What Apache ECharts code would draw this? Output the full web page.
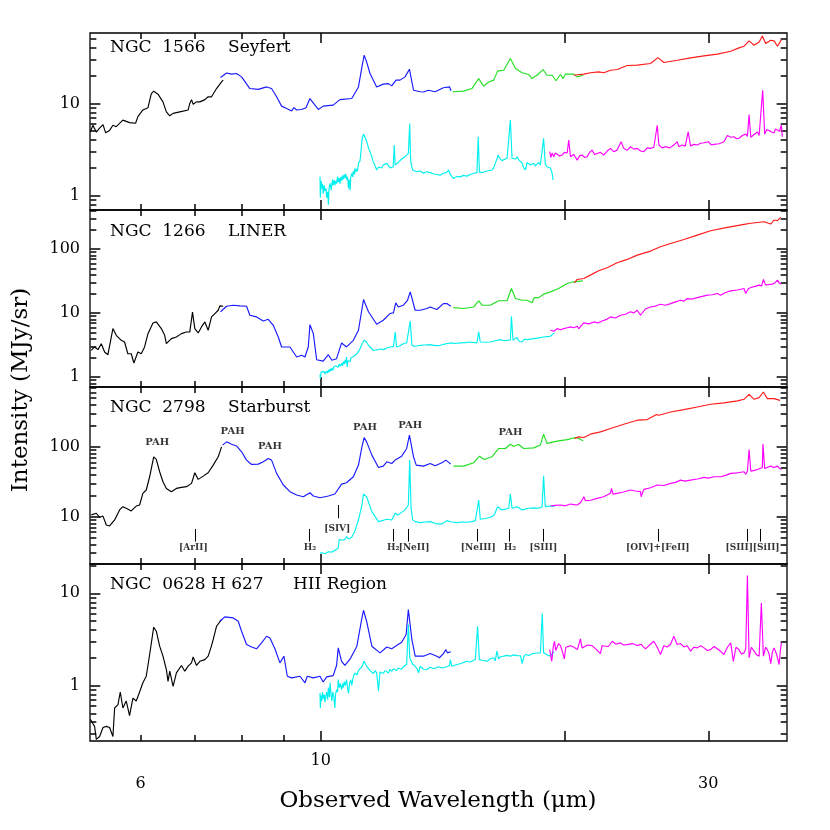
<!DOCTYPE html>
<html><head><meta charset="utf-8">
<script src="https://cdn.jsdelivr.net/npm/echarts@6/dist/echarts.min.js"></script>
<style>html,body{margin:0;padding:0;background:#fff}#c{width:830px;height:830px}</style>
</head><body><div id="c"></div>
<script>
// ---------------- DATA ([wavelength um, intensity MJy/sr]) ----------------
// Panel 1: NGC 1566 Seyfert
const p1Black = [[5.205,4.9],[5.243,5.8],[5.294,4.9],[5.344,5.4],[5.395,5.9],[5.436,4.8],[5.497,5.1],[5.549,5.8],[5.602,5.6],[5.708,6.6],[5.817,6.2],[5.917,6.1],[5.956,7.2],[6.041,8.5],[6.129,9.0],[6.187,12.8],[6.229,13.6],[6.305,12.6],[6.395,10.4],[6.457,8.1],[6.519,7.35],[6.581,7.8],[6.707,8.1],[6.868,8.5],[6.9,10.0],[6.934,11.0],[6.966,9.8],[7.033,10.4],[7.1,10.4],[7.201,11.0],[7.269,11.8],[7.339,11.8],[7.443,14.5],[7.55,17.1],[7.585,17.9]];
const p1Blue = [[7.528,19.1],[7.658,21.4],[7.767,20.8],[7.878,21.1],[7.991,19.4],[8.181,14.5],[8.378,14.2],[8.579,15.1],[8.7,14.5],[8.825,11.8],[8.951,9.35],[9.079,8.8],[9.209,8.3],[9.271,9.0],[9.341,8.5],[9.474,8.6],[9.592,9.0],[9.7,11.3],[9.84,9.6],[9.933,8.6],[10.07,9.35],[10.36,9.6],[10.56,11.0],[10.92,11.3],[11.13,15.1],[11.24,24.9],[11.31,33.3],[11.39,28.2],[11.5,21.1],[11.72,15.1],[11.94,16.2],[12.12,16.4],[12.23,15.5],[12.38,17.9],[12.52,17.9],[12.7,19.4],[12.86,23.5],[13.01,13.9],[13.26,13.4],[13.38,13.3],[13.57,13.9],[13.83,13.4],[14.16,14.8],[14.41,15.1],[14.47,13.7]];
const p1Green = [[14.54,13.4],[14.99,13.6],[15.35,14.5],[15.65,18.6],[15.87,15.4],[16.1,17.1],[16.33,17.9],[16.51,22.4],[16.8,22.9],[17.12,30.7],[17.37,23.9],[17.7,21.5],[18.03,20.6],[18.2,18.6],[18.46,20.2],[18.78,23.3],[18.99,20.2],[19.27,20.2],[19.49,17.6],[19.73,20.6],[19.88,18.6],[20.01,20.8],[20.49,20.8],[20.69,19.4],[21.04,20.2]];
const p1Red = [[20.49,20.2],[21.08,20.8],[21.48,21.5],[21.99,22.0],[22.31,21.5],[22.74,22.9],[23.17,23.3],[23.84,25.8],[24.53,26.0],[25.47,27.1],[26.01,31.4],[26.45,27.8],[27.47,29.4],[28.53,31.2],[29.64,32.8],[30.78,34.2],[31.97,36.8],[32.73,40.0],[33.2,41.7],[33.68,47.6],[34.16,42.7],[34.65,46.4],[34.97,53.9],[35.3,44.6],[35.81,48.4],[36.15,47.6],[36.5,41.7],[36.91,49.2]];
const p1Cyan = [[9.98,1.61],[9.99,0.95],[10.01,1.45],[10.03,1.2],[10.05,1.35],[10.07,1.05],[10.1,1.3],[10.12,1.12],[10.15,1.2],[10.17,0.95],[10.2,1.1],[10.22,0.8],[10.24,1.2],[10.27,1.36],[10.3,1.15],[10.32,1.3],[10.34,1.5],[10.36,1.3],[10.39,1.48],[10.41,1.3],[10.44,1.45],[10.46,1.35],[10.49,1.61],[10.51,1.4],[10.54,1.55],[10.56,1.35],[10.59,1.6],[10.61,1.45],[10.64,1.65],[10.66,1.5],[10.69,1.7],[10.71,1.55],[10.74,1.72],[10.76,1.5],[10.79,1.6],[10.82,1.2],[10.84,1.5],[10.87,1.15],[10.89,1.6],[10.92,1.75],[10.95,1.6],[10.97,1.85],[11.0,1.7],[11.02,1.98],[11.05,1.8],[11.08,1.95],[11.1,1.85],[11.13,2.24],[11.18,2.4],[11.21,3.0],[11.24,4.0],[11.29,4.65],[11.34,4.3],[11.39,3.9],[11.45,3.3],[11.5,3.0],[11.56,2.64],[11.61,2.3],[11.67,2.1],[11.72,1.9],[11.78,2.05],[11.83,2.1],[11.89,2.0],[11.94,2.15],[12.0,2.1],[12.06,2.24],[12.12,2.15],[12.17,2.0],[12.23,2.1],[12.28,2.05],[12.32,3.54],[12.35,2.15],[12.4,2.25],[12.46,2.3],[12.52,2.4],[12.58,2.5],[12.64,2.55],[12.7,2.65],[12.76,2.75],[12.82,2.87],[12.85,3.0],[12.87,6.07],[12.9,2.6],[12.92,2.2],[12.98,1.9],[13.04,1.85],[13.13,1.82],[13.2,1.9],[13.26,1.85],[13.38,1.75],[13.51,1.82],[13.64,1.78],[13.77,1.72],[13.9,1.7],[14.03,1.67],[14.16,1.75],[14.3,1.8],[14.37,1.9],[14.44,1.7],[14.57,1.54],[14.71,1.62],[14.85,1.6],[14.99,1.66],[15.14,1.63],[15.28,1.7],[15.43,1.75],[15.57,1.78],[15.63,4.35],[15.68,1.8],[15.8,1.78],[15.9,1.82],[16.02,1.85],[16.1,1.88],[16.25,1.9],[16.33,2.0],[16.4,2.24],[16.48,2.5],[16.53,2.76],[16.6,2.55],[16.72,2.4],[16.8,2.5],[16.96,2.55],[17.04,2.6],[17.12,6.6],[17.2,2.55],[17.28,2.6],[17.37,2.5],[17.45,2.64],[17.53,2.45],[17.62,2.4],[17.7,2.25],[17.78,2.0],[17.87,1.9],[17.95,2.3],[18.03,2.34],[18.12,2.15],[18.2,2.2],[18.29,2.25],[18.37,2.1],[18.46,2.2],[18.55,2.3],[18.64,2.15],[18.73,2.2],[18.81,4.18],[18.9,2.2],[18.99,2.06],[19.09,2.15],[19.18,2.0],[19.27,1.75],[19.32,1.48]];
const p1Magenta = [[19.14,3.0],[19.2,2.6],[19.27,2.9],[19.36,2.64],[19.45,2.9],[19.54,2.87],[19.68,2.7],[19.82,2.76],[19.95,2.95],[20.11,2.9],[20.2,4.0],[20.3,2.64],[20.49,2.8],[20.69,2.43],[20.83,2.7],[20.98,2.76],[21.13,2.6],[21.28,2.64],[21.43,2.95],[21.58,3.12],[21.74,2.8],[21.89,2.87],[22.1,2.95],[22.31,2.76],[22.52,3.05],[22.74,3.26],[22.95,3.0],[23.17,3.12],[23.43,3.85],[23.61,3.26],[23.84,3.1],[24.06,3.4],[24.3,3.2],[24.53,3.26],[24.76,3.05],[24.99,3.0],[25.23,3.3],[25.47,3.26],[25.71,3.35],[25.96,5.8],[26.08,3.54],[26.33,3.3],[26.58,3.4],[26.9,3.3],[27.21,3.54],[27.47,3.85],[27.6,3.4],[27.86,3.54],[28.1,3.45],[28.34,4.93],[28.53,3.45],[28.8,3.6],[29.08,3.54],[29.36,3.7],[29.64,3.75],[30.01,3.85],[30.25,3.55],[30.49,3.6],[30.93,3.66],[31.15,3.75],[31.36,3.85],[31.67,4.5],[31.97,4.3],[32.27,4.35],[32.5,4.15],[32.73,4.2],[33.04,4.5],[33.36,4.65],[33.52,4.4],[33.68,7.6],[33.84,4.3],[34.0,4.5],[34.25,4.7],[34.49,4.9],[34.65,4.5],[34.81,4.65],[35.0,13.9],[35.2,4.65],[35.4,5.2],[35.64,5.1],[35.9,4.9],[36.15,4.8],[36.3,5.3],[36.5,5.4],[36.7,5.0],[36.91,5.8],[37.01,4.35]];

// Panel 2: NGC 1266 LINER
const p2Black = [[5.219,2.62],[5.268,2.96],[5.319,2.69],[5.369,3.33],[5.42,2.47],[5.471,2.24],[5.549,5.73],[5.602,4.5],[5.682,3.76],[5.735,3.54],[5.789,2.32],[5.845,2.32],[5.889,1.66],[5.956,2.47],[6.013,2.32],[6.07,2.96],[6.129,4.78],[6.216,7.03],[6.275,7.29],[6.365,5.73],[6.426,4.5],[6.457,3.33],[6.549,3.99],[6.643,4.24],[6.739,4.78],[6.835,5.08],[6.9,5.08],[6.953,10.4],[6.999,5.73],[7.066,4.9],[7.133,6.09],[7.201,7.29],[7.269,5.4],[7.339,8.73],[7.408,9.85],[7.479,11.1],[7.514,13.0],[7.585,12.8]];
const p2Blue = [[7.528,10.5],[7.658,12.8],[7.804,13.3],[7.953,13.0],[8.104,12.8],[8.181,9.27],[8.337,8.73],[8.498,7.55],[8.618,8.02],[8.742,6.46],[8.867,4.24],[8.951,2.96],[9.165,2.96],[9.341,2.06],[9.474,2.19],[9.564,2.06],[9.654,2.96],[9.7,6.62],[9.793,4.78],[9.886,1.87],[10.07,1.78],[10.22,2.24],[10.32,1.83],[10.46,1.94],[10.61,3.42],[10.76,2.96],[10.97,3.76],[11.13,5.4],[11.29,16.3],[11.45,10.5],[11.72,6.7],[11.94,7.74],[12.17,9.85],[12.29,10.1],[12.37,14.5],[12.46,12.5],[12.64,13.3],[12.79,15.9],[12.89,21.5],[13.07,11.1],[13.13,10.5],[13.26,11.1],[13.51,11.8],[13.64,12.5],[13.9,11.4],[14.16,14.1],[14.3,14.1],[14.46,12.8]];
const p2Green = [[14.57,12.2],[14.99,11.8],[15.43,12.5],[15.65,15.6],[15.8,13.3],[16.17,13.3],[16.56,15.6],[16.96,15.6],[17.17,24.3],[17.37,16.9],[17.7,15.9],[17.95,15.9],[18.2,14.5],[18.32,17.5],[18.55,17.5],[18.81,19.8],[19.18,21.5],[19.63,24.3],[20.11,29.1],[20.49,30.9],[21.02,32.0]];
const p2Red = [[20.53,29.8],[20.69,33.6],[21.08,34.8],[21.48,39.3],[21.99,45.9],[22.52,51.2],[23.17,61.2],[23.84,69.2],[24.53,80.8],[25.47,93.4],[26.2,109],[26.96,123],[28.0,142],[29.08,166],[30.2,194],[31.67,219],[33.2,244],[33.84,254],[35.14,269],[35.81,247],[36.15,286],[36.5,279],[36.84,315]];
const p2Cyan = [[9.98,1.1],[9.99,0.94],[10.01,1.2],[10.03,1.27],[10.06,1.15],[10.1,1.22],[10.13,1.12],[10.17,1.25],[10.2,1.15],[10.22,1.3],[10.25,1.2],[10.27,1.35],[10.3,1.25],[10.32,1.38],[10.35,1.28],[10.38,1.45],[10.41,1.35],[10.44,1.5],[10.46,1.4],[10.49,1.55],[10.51,1.42],[10.54,1.6],[10.57,1.48],[10.61,1.65],[10.64,1.5],[10.66,1.75],[10.69,1.6],[10.72,1.85],[10.74,1.65],[10.76,2.06],[10.78,1.44],[10.8,1.8],[10.84,1.9],[10.87,1.75],[10.9,2.0],[10.92,2.06],[10.95,1.9],[10.97,2.1],[11.02,2.2],[11.08,2.32],[11.13,2.5],[11.18,2.78],[11.24,3.3],[11.31,3.76],[11.39,3.5],[11.45,3.14],[11.52,2.9],[11.61,2.62],[11.7,2.65],[11.78,2.69],[11.86,2.75],[11.94,2.69],[12.06,2.85],[12.17,2.96],[12.29,3.0],[12.35,5.08],[12.4,2.96],[12.52,3.1],[12.64,3.33],[12.76,3.45],[12.82,3.54],[12.89,7.55],[12.95,3.14],[13.04,3.02],[13.13,3.06],[13.26,3.14],[13.45,3.18],[13.64,3.22],[13.83,3.1],[14.03,3.14],[14.23,3.3],[14.44,3.42],[14.65,3.35],[14.85,3.42],[15.06,3.46],[15.28,3.54],[15.57,3.42],[15.65,5.08],[15.72,3.54],[15.95,3.5],[16.17,3.54],[16.4,3.7],[16.64,3.85],[16.8,3.7],[16.96,3.76],[17.12,3.8],[17.17,8.94],[17.25,3.76],[17.35,4.0],[17.45,4.14],[17.55,3.6],[17.7,3.54],[17.8,3.9],[17.95,3.85],[18.2,3.95],[18.46,4.06],[18.64,4.15],[18.81,4.24],[19.0,4.3],[19.18,4.35],[19.3,4.7],[19.4,4.9]];
const p2Magenta = [[19.18,5.4],[19.36,5.2],[19.54,5.73],[19.73,5.5],[19.92,5.73],[20.11,5.9],[20.3,6.09],[20.49,5.9],[20.69,6.23],[20.78,5.73],[21.08,7.03],[21.38,6.8],[21.69,7.29],[21.95,7.0],[22.2,7.55],[22.5,8.0],[22.74,8.73],[23.06,8.4],[23.39,9.27],[23.72,9.6],[24.06,10.5],[24.3,10.1],[24.53,11.1],[24.76,9.27],[25.1,11.6],[25.47,12.5],[25.83,12.9],[26.2,13.8],[26.58,13.3],[26.96,14.1],[27.34,15.0],[27.73,15.9],[28.0,15.4],[28.26,16.9],[28.67,16.6],[29.08,17.5],[29.5,18.3],[29.92,19.1],[30.35,19.4],[30.78,20.3],[31.07,19.1],[31.5,21.0],[31.97,22.3],[32.6,23.0],[33.2,24.3],[33.36,20.3],[33.6,24.0],[33.84,25.2],[34.25,26.2],[34.65,27.4],[34.9,26.5],[35.07,33.6],[35.3,27.4],[35.64,28.0],[35.98,28.4],[36.25,30.0],[36.5,32.8],[36.7,29.5],[36.91,28.4]];

// Panel 3: NGC 2798 Starburst
const p3Black = [[5.219,10.6],[5.294,11.2],[5.344,9.8],[5.395,10.2],[5.446,7.61],[5.497,7.37],[5.576,8.97],[5.655,12.5],[5.708,13.9],[5.762,13.2],[5.845,12.1],[5.928,14.2],[5.985,14.7],[6.041,21.6],[6.099,24.1],[6.158,37.3],[6.229,72.0],[6.275,66.0],[6.335,44.0],[6.395,31.7],[6.457,25.4],[6.549,22.8],[6.643,25.4],[6.739,26.3],[6.835,26.9],[6.934,30.0],[6.999,42.6],[7.066,34.2],[7.167,38.1],[7.269,42.6],[7.373,54.8],[7.479,72.0],[7.55,100]];
const p3Blue = [[7.571,106],[7.658,118],[7.767,109],[7.878,103],[7.991,84.9],[8.104,64.6],[8.221,56.0],[8.378,56.6],[8.498,61.1],[8.618,68.2],[8.7,64.6],[8.825,41.7],[8.994,28.4],[9.165,22.8],[9.341,20.4],[9.519,19.3],[9.7,22.0],[9.793,19.8],[9.98,18.7],[10.22,19.8],[10.41,21.1],[10.61,29.3],[10.76,30.6],[10.97,37.3],[11.13,54.8],[11.24,100],[11.31,136],[11.39,118],[11.56,76.1],[11.78,50.7],[11.94,53.0],[12.06,61.1],[12.23,57.8],[12.35,64.6],[12.58,73.6],[12.76,94.8],[12.86,147],[13.01,72.0],[13.11,54.8],[13.38,53.0],[13.64,57.8],[13.83,53.6],[14.1,59.1],[14.26,64.6],[14.46,56.6]];
const p3Green = [[14.57,53.0],[14.99,53.0],[15.43,59.1],[15.68,73.6],[15.9,66.0],[16.25,72.0],[16.56,94.8],[16.88,94.8],[17.12,109],[17.28,102],[17.53,108],[17.78,94.8],[18.29,96.8],[18.64,106],[18.81,152],[18.99,112],[19.54,121],[20.11,127],[20.59,136],[20.78,132],[21.04,122]];
const p3Red = [[20.53,132],[20.78,139],[21.08,136],[21.48,152],[22.1,164],[22.74,183],[23.61,211],[24.53,241],[25.23,246],[25.91,290],[26.08,284],[26.96,316],[28.0,342],[29.08,373],[30.2,407],[31.36,426],[32.59,455],[33.2,480],[33.68,566],[34.16,480],[34.65,507],[35.07,611],[35.47,491],[36.15,491],[36.77,464]];
const p3Cyan = [[9.98,3.0],[10.0,2.9],[10.04,3.05],[10.08,3.1],[10.12,2.95],[10.17,3.06],[10.22,3.15],[10.27,3.2],[10.32,3.1],[10.36,3.27],[10.41,3.3],[10.46,3.4],[10.51,3.53],[10.54,4.75],[10.61,4.6],[10.66,4.91],[10.71,4.7],[10.76,5.18],[10.82,4.8],[10.92,5.07],[11.02,6.31],[11.13,8.97],[11.24,14.7],[11.29,21.1],[11.39,19.3],[11.56,11.8],[11.78,8.49],[11.94,8.9],[12.06,9.17],[12.23,8.97],[12.35,11.2],[12.46,10.6],[12.7,12.5],[12.82,14.7],[12.87,64.6],[12.92,13.2],[12.98,9.0],[13.07,8.5],[13.26,8.22],[13.45,8.4],[13.64,8.49],[13.9,7.87],[14.1,7.87],[14.3,8.78],[14.5,8.4],[14.71,8.22],[14.9,8.4],[15.14,8.31],[15.35,8.5],[15.5,8.78],[15.65,17.3],[15.72,9.17],[15.95,9.4],[16.17,9.8],[16.35,10.5],[16.51,13.9],[16.72,12.5],[16.9,12.9],[17.04,13.2],[17.12,21.1],[17.2,13.2],[17.45,13.9],[17.7,12.5],[18.03,13.2],[18.29,13.4],[18.55,13.2],[18.73,13.9],[18.81,38.5],[18.9,13.9],[19.18,14.2],[19.4,13.9]];
const p3Magenta = [[19.18,14.2],[19.45,14.5],[19.73,14.7],[20.0,14.3],[20.3,15.2],[20.5,14.9],[20.69,14.7],[20.9,16.0],[21.08,19.3],[21.18,16.9],[21.5,17.2],[21.89,18.3],[22.3,19.3],[22.74,21.6],[22.8,25.4],[22.9,21.0],[23.17,21.6],[23.6,22.6],[24.06,24.1],[24.4,23.3],[24.76,22.8],[24.8,19.3],[24.99,24.6],[25.47,26.0],[25.96,28.4],[26.45,28.0],[26.96,30.0],[27.35,31.0],[27.73,33.4],[28.1,32.3],[28.53,33.4],[29.08,34.6],[29.64,36.5],[30.0,35.6],[30.49,37.3],[31.07,37.3],[31.5,39.0],[31.97,41.7],[32.6,42.5],[33.2,44.0],[33.36,40.5],[33.52,45.0],[33.68,91.7],[33.84,45.0],[34.2,46.0],[34.49,47.5],[34.97,50.7],[35.03,110],[35.2,49.0],[35.5,51.0],[35.81,53.0],[36.15,50.5],[36.5,53.0],[36.7,49.5],[36.91,47.5]];

// Panel 4: NGC 0628 H 627 HII Region (no long-low modules)
const p4Black = [[5.205,0.43],[5.268,0.36],[5.294,0.26],[5.344,0.28],[5.395,0.35],[5.446,0.36],[5.497,0.35],[5.549,0.28],[5.576,0.57],[5.629,0.62],[5.666,0.85],[5.708,0.57],[5.762,0.68],[5.817,0.47],[5.873,0.73],[5.928,0.68],[5.985,0.85],[6.041,1.07],[6.099,1.26],[6.158,2.17],[6.229,4.29],[6.275,3.88],[6.335,2.67],[6.395,2.08],[6.457,1.49],[6.487,1.11],[6.519,1.43],[6.581,0.98],[6.643,1.37],[6.739,1.65],[6.803,1.43],[6.868,1.62],[6.934,1.76],[6.966,2.04],[7.033,1.65],[7.1,1.83],[7.201,1.91],[7.269,2.08],[7.339,2.71],[7.373,3.15],[7.443,4.39],[7.55,5.19]];
const p4Blue = [[7.514,4.98],[7.621,5.55],[7.804,5.41],[7.915,4.98],[7.991,3.88],[8.104,2.78],[8.221,2.62],[8.337,2.5],[8.457,2.9],[8.579,3.42],[8.66,3.28],[8.783,2.5],[8.909,1.76],[9.01,2.08],[9.097,1.26],[9.209,1.21],[9.43,1.26],[9.474,1.28],[9.564,1.07],[9.627,1.26],[9.793,1.21],[9.98,1.26],[10.07,1.09],[10.17,1.24],[10.36,1.28],[10.46,1.65],[10.51,2.56],[10.61,1.83],[10.71,1.65],[10.87,1.94],[11.08,2.67],[11.24,5.41],[11.29,6.55],[11.39,4.98],[11.56,2.67],[11.83,2.26],[12.06,2.62],[12.23,2.5],[12.4,2.71],[12.58,2.95],[12.74,3.57],[12.82,6.66],[12.95,3.15],[13.07,2.08],[13.26,2.08],[13.38,2.08],[13.64,2.22],[13.9,2.08],[14.0,2.0],[14.16,2.22],[14.26,2.45],[14.32,2.26],[14.46,2.32]];
const p4Cyan = [[9.98,0.83],[9.99,0.57],[10.01,0.78],[10.03,0.68],[10.05,0.85],[10.07,0.72],[10.1,0.8],[10.12,0.66],[10.15,0.78],[10.17,0.85],[10.2,0.7],[10.22,0.95],[10.25,0.75],[10.27,1.07],[10.3,0.8],[10.32,0.68],[10.35,0.85],[10.38,0.75],[10.41,0.57],[10.43,0.8],[10.46,0.9],[10.49,0.85],[10.51,1.16],[10.54,0.95],[10.57,1.05],[10.61,0.9],[10.64,1.05],[10.66,0.95],[10.69,1.1],[10.72,1.0],[10.76,1.16],[10.79,0.95],[10.82,0.82],[10.85,1.05],[10.89,1.15],[10.92,1.0],[10.97,1.25],[11.02,1.37],[11.08,1.3],[11.13,1.45],[11.18,1.49],[11.24,1.6],[11.31,1.83],[11.39,1.62],[11.45,1.55],[11.5,1.45],[11.56,1.43],[11.61,1.35],[11.67,1.45],[11.72,1.37],[11.78,0.87],[11.83,1.4],[11.89,1.43],[11.94,1.35],[12.0,1.45],[12.06,1.4],[12.12,1.37],[12.17,1.5],[12.23,1.42],[12.29,1.52],[12.35,1.49],[12.4,1.45],[12.46,1.55],[12.52,1.55],[12.58,1.5],[12.64,1.6],[12.7,1.62],[12.76,1.7],[12.82,4.58],[12.87,2.0],[12.92,1.91],[12.98,1.7],[13.07,1.62],[13.15,1.5],[13.2,1.37],[13.26,1.62],[13.38,1.5],[13.51,1.49],[13.64,1.58],[13.77,1.52],[13.83,1.55],[13.97,1.6],[14.1,1.55],[14.16,1.62],[14.3,1.6],[14.41,1.65],[14.44,1.91],[14.5,1.62],[14.71,1.69],[14.85,1.72],[15.0,1.78],[15.14,1.83],[15.28,1.8],[15.5,1.91],[15.6,4.39],[15.68,1.91],[15.8,1.88],[16.02,1.83],[16.17,1.95],[16.33,2.0],[16.4,1.85],[16.48,2.36],[16.56,1.95],[16.64,2.05],[16.8,2.08],[16.96,2.12],[17.12,2.08],[17.28,2.15],[17.45,2.11],[17.62,2.1],[17.7,1.73],[17.78,2.05],[17.87,2.17],[18.03,2.12],[18.2,2.2],[18.29,2.17],[18.46,2.25],[18.64,2.26],[18.74,6.03],[18.81,2.26],[18.99,2.15],[19.18,2.08],[19.3,2.3],[19.4,2.26]];
const p4Magenta = [[19.14,2.45],[19.25,1.83],[19.33,2.6],[19.4,3.02],[19.47,2.4],[19.54,2.5],[19.63,2.85],[19.73,2.71],[19.82,2.4],[19.95,1.94],[20.03,2.6],[20.11,2.5],[20.3,2.7],[20.49,2.62],[20.7,2.45],[20.88,3.2],[20.98,2.55],[21.08,2.62],[21.3,2.75],[21.58,2.71],[21.8,2.5],[22.1,2.22],[22.2,2.7],[22.31,2.78],[22.6,2.65],[22.85,3.02],[23.1,2.8],[23.39,2.9],[23.6,2.75],[23.84,2.78],[24.2,2.85],[24.53,2.71],[24.8,2.8],[25.11,2.5],[25.4,2.75],[25.71,3.02],[25.96,2.6],[26.2,2.17],[26.45,2.7],[26.7,2.62],[26.96,2.8],[27.21,3.42],[27.47,2.78],[27.73,2.85],[28.0,2.62],[28.26,2.7],[28.53,2.36],[28.8,2.6],[29.08,2.56],[29.36,2.7],[29.64,2.56],[29.92,2.4],[30.2,2.45],[30.49,2.65],[30.78,2.5],[31.07,2.35],[31.36,2.17],[31.67,2.6],[31.97,2.9],[32.21,1.83],[32.45,2.6],[32.73,2.45],[32.95,2.2],[33.2,2.26],[33.36,2.5],[33.52,15.6],[33.68,2.0],[33.9,2.6],[34.16,2.36],[34.4,2.15],[34.65,2.08],[34.87,7.87],[35.07,2.08],[35.3,2.6],[35.47,2.45],[35.64,2.2],[35.81,1.73],[35.98,2.3],[36.15,2.56],[36.4,2.2],[36.67,1.69],[36.8,2.4],[36.91,2.9]];

// Panel-3 annotations
const pahLabelPos = [[6.29,114],[7.79,169],[8.66,102],[11.34,193],[12.89,204],[17.12,161]];
const lineLabelText = ['[ArII]','H₂','[SIV]','H₂','[NeII]','[NeIII]','H₂','[SIII]','[OIV]+[FeII]','[SIII]','[SiII]'];
const lineLabelX = [6.97,9.7,10.48,12.28,13.03,15.63,17.1,18.8,26.0,32.75,35.35];
const lineLabelY = [3.57,3.57,6.78,3.57,3.57,3.57,3.57,3.57,3.57,3.57,3.57];
const lineTickX = [7.0,9.69,10.51,12.28,12.81,15.6,17.05,18.78,26.0,33.5,34.8];
const lineTickTop = [6.67,6.67,14.7,6.67,6.67,6.67,6.67,6.67,6.67,6.67,6.67];
const lineTickBottom = [4.4,4.4,9.5,4.4,4.4,4.4,4.4,4.4,4.4,4.4,4.4];

// Panel names
const panelNames = ['NGC  1566','NGC  1266','NGC  2798','NGC  0628 H 627'];
const panelTypes = ['Seyfert','LINER','Starburst','HII Region'];

// Axis ticks
const xMinorTicks = [6,7,8,9];
const xMajorTicks = [10,20,30];
const xTickLabels = [6,10,30];
const yRanges = [[0.7,58],[0.7,410],[2.1,720],[0.25,20.8]];
const yMajor = [[1,10],[1,10,100],[10,100],[1,10]];
const yMinor = [
  [0.8,0.9,2,3,4,5,6,7,8,9,20,30,40,50],
  [0.8,0.9,2,3,4,5,6,7,8,9,20,30,40,50,60,70,80,90,200,300,400],
  [3,4,5,6,7,8,9,20,30,40,50,60,70,80,90,200,300,400,500,600,700],
  [0.3,0.4,0.5,0.6,0.7,0.8,0.9,2,3,4,5,6,7,8,9,20]
];

// ---------------- CHART ----------------
const FONT = 'DejaVu Serif';
const X_MIN = 5.2, X_MAX = 37.5;
const GRID_LEFT = 90, GRID_RIGHT = 43, CHART_W = 830;
const PLOT_W = CHART_W - GRID_LEFT - GRID_RIGHT;
const gridTops = [33, 210, 387, 564];
const GRID_H = 177;
const COLORS = {black:'#000000', blue:'#1a1aff', green:'#22e022', red:'#ff1a1a', cyan:'#00f0f0', magenta:'#ff00ff'};
const MAJ_LEN = 10, MIN_LEN = 6;

function mkX(i, labels) {
  const ax = {type:'log', logBase:10, gridIndex:i, position:'bottom', min:X_MIN, max:X_MAX,
    axisLine:{show:false, onZero:false}, splitLine:{show:false}, axisTick:{show:false}, axisLabel:{show:false}};
  if (labels) {
    ax.axisLabel = {show:true, customValues:labels, color:'#000', fontFamily:FONT, fontSize:16, lineHeight:23, margin:8,
      formatter: v => (Math.abs(v-10) < 0.01 ? '10' : '\n' + Math.round(v))};
  }
  return ax;
}
function mkY(i) {
  return {type:'log', logBase:10, gridIndex:i, position:'left', min:yRanges[i][0], max:yRanges[i][1],
    axisLine:{show:false, onZero:false}, splitLine:{show:false}, axisTick:{show:false},
    axisLabel:{show:true, customValues:yMajor[i], color:'#000', fontFamily:FONT, fontSize:16, margin:10,
      formatter: v => String(Math.round(v*100)/100)}};
}

// Tick marks as axis-space segments (length expressed as a fraction of each log axis span)
function tickLines(i) {
  const yMin = yRanges[i][0] * 1.002, yMax = yRanges[i][1] / 1.002;
  const xMin = X_MIN * 1.001, xMax = X_MAX / 1.001;
  const yF = len => Math.pow(yRanges[i][1] / yRanges[i][0], len / GRID_H);
  const xF = len => Math.pow(X_MAX / X_MIN, len / PLOT_W);
  const out = [];
  const addX = (vals, len) => vals.forEach(v => {
    out.push([{coord:[v, yMin]}, {coord:[v, yMin * yF(len)]}]);
    out.push([{coord:[v, yMax]}, {coord:[v, yMax / yF(len)]}]);
  });
  const addY = (vals, len) => vals.forEach(v => {
    out.push([{coord:[xMin, v]}, {coord:[xMin * xF(len), v]}]);
    out.push([{coord:[xMax, v]}, {coord:[xMax / xF(len), v]}]);
  });
  addX(xMinorTicks, MIN_LEN); addX(xMajorTicks, MAJ_LEN);
  addY(yMinor[i], MIN_LEN); addY(yMajor[i], MAJ_LEN);
  return out;
}

const grids = [], xAxes = [], yAxes = [];
for (let i = 0; i < 4; i++) {
  grids.push({left:GRID_LEFT, right:GRID_RIGHT, top:gridTops[i], height:GRID_H, show:true, borderColor:'#000', borderWidth:1.3, backgroundColor:'rgba(0,0,0,0)'});
  xAxes.push(mkX(i, i === 3 ? xTickLabels : null));
  yAxes.push(mkY(i));
}

const panelData = [
  [p1Black,p1Blue,p1Green,p1Red,p1Cyan,p1Magenta],
  [p2Black,p2Blue,p2Green,p2Red,p2Cyan,p2Magenta],
  [p3Black,p3Blue,p3Green,p3Red,p3Cyan,p3Magenta],
  [p4Black,p4Blue,null,null,p4Cyan,p4Magenta]
];
const order = ['black','blue','green','red','cyan','magenta'];
const series = [];
panelData.forEach((arrs, i) => {
  arrs.forEach((d, k) => {
    if (!d) return;
    series.push({type:'line', xAxisIndex:i, yAxisIndex:i, data:d, symbol:'none', showSymbol:false,
      clip:true, silent:true, z:2+k,
      lineStyle:{color:COLORS[order[k]], width:1.15}, itemStyle:{color:COLORS[order[k]]}});
  });
  // axis tick marks hosted on an invisible scatter series (points at the major x tick values)
  series.push({type:'scatter', xAxisIndex:i, yAxisIndex:i, symbolSize:1, itemStyle:{color:'rgba(0,0,0,0)'}, silent:true, z:20,
    data: xMajorTicks.map(v => [v, Math.sqrt(yRanges[i][0] * yRanges[i][1])]),
    markLine:{silent:true, symbol:['none','none'], animation:false, label:{show:false},
      lineStyle:{color:'#000', width:1.5, type:'solid'}, data:tickLines(i)}});
});

// PAH labels
series.push({type:'scatter', xAxisIndex:2, yAxisIndex:2, symbolSize:1, itemStyle:{color:'rgba(0,0,0,0)'}, silent:true, z:20,
  data: pahLabelPos.map(p => ({value:p, name:'PAH'})),
  label:{show:true, position:'inside', formatter:'{b}', color:'#000', fontFamily:FONT, fontWeight:'bold', fontSize:10}});
// line labels + ticks
series.push({type:'scatter', xAxisIndex:2, yAxisIndex:2, symbolSize:1, itemStyle:{color:'rgba(0,0,0,0)'}, silent:true, z:20,
  data: lineLabelX.map((x,k) => ({value:[x, lineLabelY[k]], name:lineLabelText[k]})),
  label:{show:true, position:'inside', formatter:'{b}', color:'#000', fontFamily:FONT, fontWeight:'bold', fontSize:9},
  markLine:{silent:true, symbol:['none','none'], animation:false, label:{show:false},
    lineStyle:{color:'#000', width:1, type:'solid'},
    data: lineTickX.map((x,k) => [{coord:[x, lineTickTop[k]]},{coord:[x, lineTickBottom[k]]}])}});

const graphics = [];
const titleY = [48, 232, 408, 585];
const typeX = [228, 228, 228, 293];
for (let i = 0; i < 4; i++) {
  graphics.push({type:'text', x:110, y:titleY[i], style:{text:panelNames[i], fill:'#000', font:'17px "' + FONT + '"', verticalAlign:'middle', align:'left'}});
  graphics.push({type:'text', x:typeX[i], y:titleY[i], style:{text:panelTypes[i], fill:'#000', font:'17px "' + FONT + '"', verticalAlign:'middle', align:'left'}});
}
graphics.push({type:'text', x:438, y:801, style:{text:'Observed Wavelength (μm)', fill:'#000', font:'23px "' + FONT + '"', verticalAlign:'middle', align:'center'}});
graphics.push({type:'text', x:21, y:390, rotation:Math.PI/2, style:{text:'Intensity (MJy/sr)', fill:'#000', font:'23px "' + FONT + '"', verticalAlign:'middle', align:'center'}});

const chart = echarts.init(document.getElementById('c'));
chart.setOption({
  animation:false,
  backgroundColor:'#ffffff',
  textStyle:{fontFamily:FONT},
  grid:grids, xAxis:xAxes, yAxis:yAxes, series:series, graphic:graphics
});
</script></body></html>
